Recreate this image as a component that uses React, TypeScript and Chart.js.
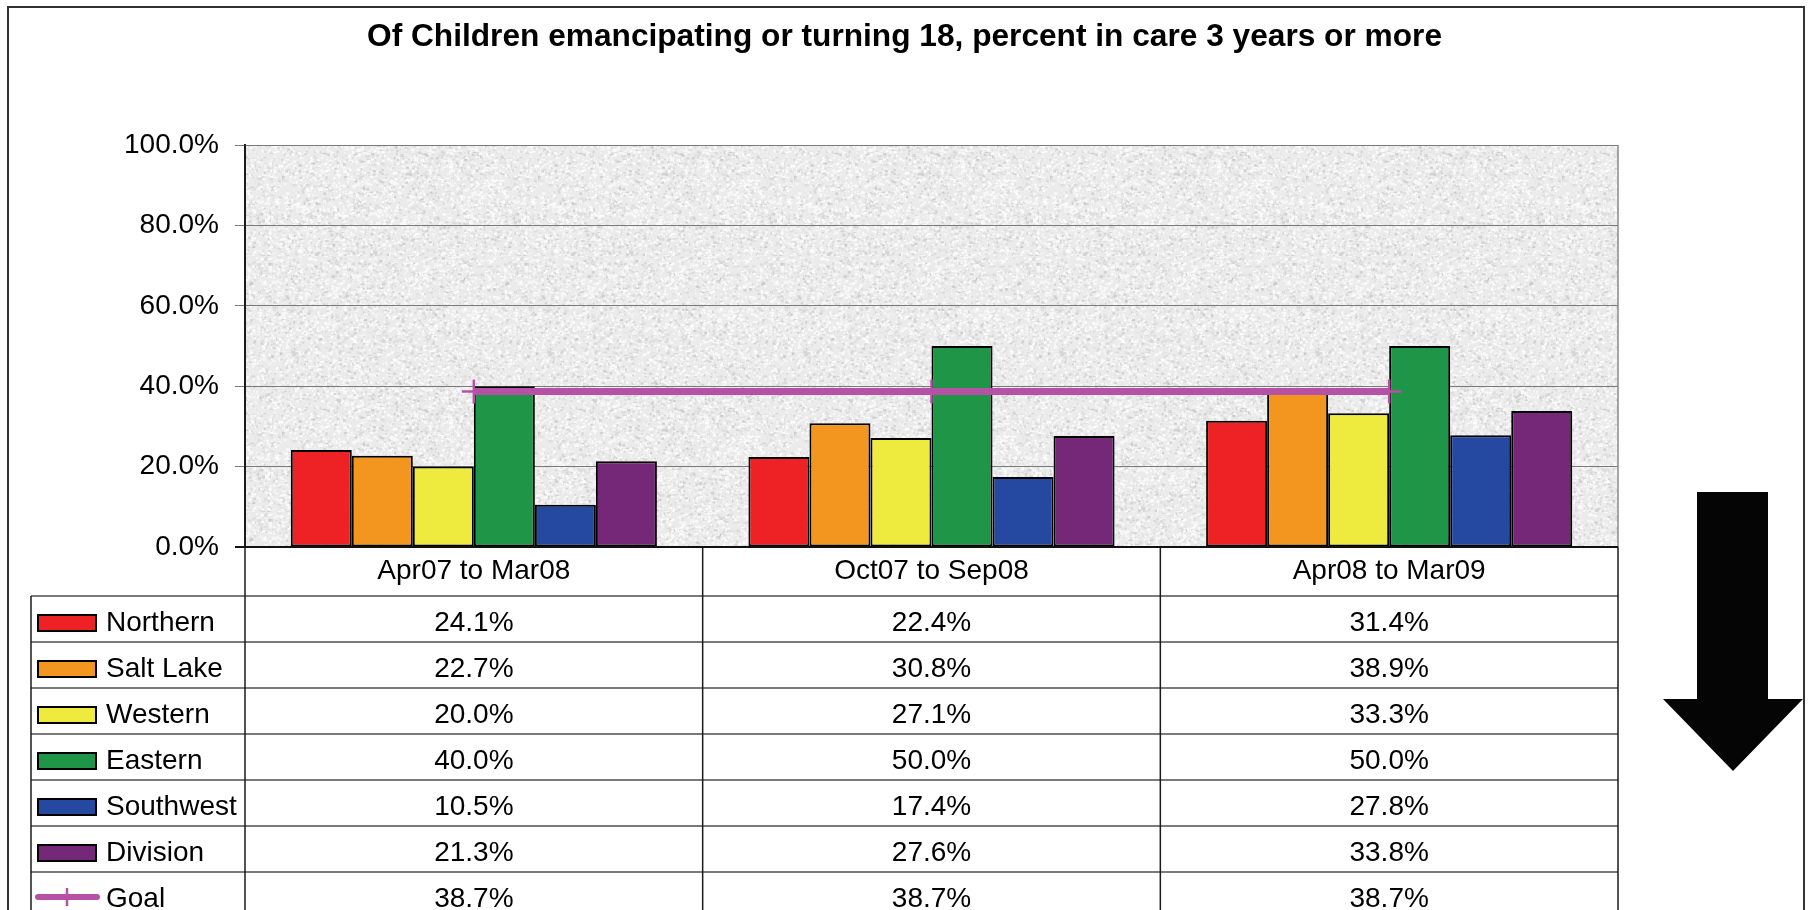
import React, { useEffect, useRef } from 'react';
import { Chart, registerables } from 'chart.js';

Chart.register(...registerables);

// ---------- data ----------
const categories = ['Apr07 to Mar08', 'Oct07 to Sep08', 'Apr08 to Mar09'];
const northern = [24.1, 22.4, 31.4];
const saltLake = [22.7, 30.8, 38.9];
const western = [20.0, 27.1, 33.3];
const eastern = [40.0, 50.0, 50.0];
const southwest = [10.5, 17.4, 27.8];
const division = [21.3, 27.6, 33.8];
const goal = [38.7, 38.7, 38.7];

const seriesNames = ['Northern', 'Salt Lake', 'Western', 'Eastern', 'Southwest', 'Division'];
const seriesValues = [northern, saltLake, western, eastern, southwest, division];
const seriesColors = ['#ee2224', '#f3961f', '#eeea3e', '#1f9647', '#2549a0', '#752878'];
const goalName = 'Goal';
const goalColor = '#b552a5';

const yMin = 0;
const yMax = 100;
const yStep = 20;
const titleText = 'Of Children emancipating or turning 18, percent in care 3 years or more';

const FONT = '"Liberation Sans", Arial, Helvetica, sans-serif';

// ---------- texture for plot background ----------
function makeTexture(ctx: CanvasRenderingContext2D) {
  const c = document.createElement('canvas');
  c.width = 256;
  c.height = 256;
  const g = c.getContext('2d')!;
  g.fillStyle = '#ebebeb';
  g.fillRect(0, 0, 256, 256);
  let s = 987654321;
  const rnd = () => {
    s = (Math.imul(s, 1664525) + 1013904223) >>> 0;
    return s / 4294967296;
  };
  for (let i = 0; i < 9000; i++) {
    const x = rnd() * 256;
    const y = rnd() * 256;
    const w = 0.8 + rnd() * 2.6;
    const h = 0.8 + rnd() * 2.0;
    const v = rnd();
    g.fillStyle =
      v < 0.58 ? 'rgba(253,253,253,0.75)' : v < 0.88 ? 'rgba(212,212,212,0.6)' : 'rgba(185,185,185,0.5)';
    g.fillRect(x, y, w, h);
  }
  return ctx.createPattern(c, 'repeat');
}

const decorPlugin = {
  id: 'excelDecor',
  beforeDraw(chart: any) {
    const { ctx, chartArea: a, width, height } = chart;
    ctx.save();
    ctx.fillStyle = '#ffffff';
    ctx.fillRect(0, 0, width, height);
    const pat = makeTexture(ctx);
    if (pat) ctx.fillStyle = pat;
    ctx.fillRect(a.left, a.top, a.right - a.left, a.bottom - a.top);
    ctx.restore();
  },
  afterDraw(chart: any) {
    const { ctx, chartArea: a, height } = chart;
    const xs = chart.scales.x;
    const centers = categories.map((_, i) => xs.getPixelForValue(i));
    const half = (centers[1] - centers[0]) / 2;
    const tableLeft = 31;
    const rowTop0 = a.bottom + 49;
    const rowH = 46;
    const nRows = seriesNames.length + 1;

    ctx.save();
    // plot right border
    ctx.strokeStyle = '#8a8a8a';
    ctx.lineWidth = 1.5;
    ctx.beginPath();
    ctx.moveTo(a.right, a.top);
    ctx.lineTo(a.right, a.bottom);
    ctx.stroke();

    // table horizontal lines
    ctx.strokeStyle = '#7a7a7a';
    ctx.lineWidth = 2;
    for (let k = 0; k <= nRows; k++) {
      const y = rowTop0 + k * rowH;
      ctx.beginPath();
      ctx.moveTo(tableLeft, y);
      ctx.lineTo(a.right, y);
      ctx.stroke();
    }

    // table vertical lines
    ctx.strokeStyle = '#1a1a1a';
    ctx.lineWidth = 1.5;
    const vline = (x: number, y0: number, y1: number) => {
      ctx.beginPath();
      ctx.moveTo(x, y0);
      ctx.lineTo(x, y1);
      ctx.stroke();
    };
    vline(a.left, a.top, height);
    for (let i = 0; i < centers.length - 1; i++) vline(centers[i] + half, a.bottom, height);
    vline(a.right, a.bottom, height);
    vline(tableLeft, rowTop0, height);

    // x axis line
    ctx.strokeStyle = '#111';
    ctx.lineWidth = 2;
    ctx.beginPath();
    ctx.moveTo(a.left - 10, a.bottom);
    ctx.lineTo(a.right, a.bottom);
    ctx.stroke();

    // header labels
    ctx.fillStyle = '#000';
    ctx.font = `28px ${FONT}`;
    ctx.textAlign = 'center';
    ctx.textBaseline = 'alphabetic';
    categories.forEach((c, i) => ctx.fillText(c, centers[i], a.bottom + 32));

    // series rows
    seriesNames.forEach((name, r) => {
      const top = rowTop0 + r * rowH;
      ctx.fillStyle = seriesColors[r];
      ctx.fillRect(38, top + 19, 58, 16);
      ctx.strokeStyle = '#000';
      ctx.lineWidth = 2;
      ctx.strokeRect(38, top + 19, 58, 16);
      ctx.fillStyle = '#000';
      ctx.textAlign = 'left';
      ctx.fillText(name, 106, top + 35);
      ctx.textAlign = 'center';
      seriesValues[r].forEach((v, i) => ctx.fillText(v.toFixed(1) + '%', centers[i], top + 35));
    });

    // goal row
    const gTop = rowTop0 + seriesNames.length * rowH;
    ctx.strokeStyle = goalColor;
    ctx.lineWidth = 6;
    ctx.lineCap = 'round';
    ctx.beginPath();
    ctx.moveTo(38, gTop + 25);
    ctx.lineTo(97, gTop + 25);
    ctx.stroke();
    ctx.lineWidth = 2.5;
    ctx.lineCap = 'butt';
    ctx.beginPath();
    ctx.moveTo(67, gTop + 16);
    ctx.lineTo(67, gTop + 34);
    ctx.stroke();
    ctx.fillStyle = '#000';
    ctx.textAlign = 'left';
    ctx.fillText(goalName, 106, gTop + 35);
    ctx.textAlign = 'center';
    goal.forEach((v, i) => ctx.fillText(v.toFixed(1) + '%', centers[i], gTop + 35));

    // outer border
    ctx.strokeStyle = '#333';
    ctx.lineWidth = 2;
    ctx.strokeRect(8, 7, 1796, height + 20);

    // title
    ctx.save();
    ctx.font = `bold 31px ${FONT}`;
    const w = ctx.measureText(titleText).width;
    ctx.translate(904.5, 46);
    ctx.scale(1075 / w, 1);
    ctx.textAlign = 'center';
    ctx.fillStyle = '#000';
    ctx.fillText(titleText, 0, 0);
    ctx.restore();

    // down arrow
    ctx.fillStyle = '#050505';
    ctx.beginPath();
    ctx.moveTo(1697, 492);
    ctx.lineTo(1768, 492);
    ctx.lineTo(1768, 699);
    ctx.lineTo(1803, 699);
    ctx.lineTo(1733, 771);
    ctx.lineTo(1663, 699);
    ctx.lineTo(1697, 699);
    ctx.closePath();
    ctx.fill();

    ctx.restore();
  },
};

export default function App() {
  const ref = useRef<HTMLCanvasElement>(null);

  useEffect(() => {
    if (!ref.current) return;
    Chart.defaults.font.family = FONT;
    const datasets: any[] = seriesNames.map((name, i) => ({
      type: 'bar',
      label: name,
      data: seriesValues[i],
      backgroundColor: seriesColors[i],
      borderColor: '#000',
      borderWidth: 2,
      borderSkipped: false,
      categoryPercentage: 0.8,
      barPercentage: 1.0,
    }));
    datasets.push({
      type: 'line',
      label: goalName,
      data: goal,
      borderColor: goalColor,
      backgroundColor: goalColor,
      borderWidth: 7,
      fill: false,
      tension: 0,
      pointStyle: 'cross',
      pointRadius: 12,
      pointBorderWidth: 2.5,
      pointBorderColor: goalColor,
      order: -1,
    });

    const chart = new Chart(ref.current, {
      type: 'bar',
      data: { labels: categories, datasets },
      plugins: [decorPlugin],
      options: {
        animation: false,
        responsive: false,
        devicePixelRatio: 1,
        layout: { padding: { left: 0, top: 145, right: 190, bottom: 413 } },
        plugins: { legend: { display: false }, tooltip: { enabled: false }, title: { display: false } },
        scales: {
          x: { display: false, offset: true },
          y: {
            min: yMin,
            max: yMax,
            afterFit: (s: any) => {
              s.width = 245;
            },
            ticks: {
              stepSize: yStep,
              padding: 16,
              color: '#000',
              font: { size: 28, family: FONT },
              callback: (v: any) => Number(v).toFixed(1) + '%',
            },
            grid: { color: '#7a7a7a', lineWidth: 1, tickLength: 10, drawTicks: true },
            border: { display: true, color: '#222', width: 2 },
          },
        },
      } as any,
    });
    return () => chart.destroy();
  }, []);

  return (
    <div
      style={{
        position: 'fixed',
        left: 0,
        top: 0,
        width: 1808,
        height: 910,
        overflow: 'hidden',
        background: '#fff',
      }}
    >
      <canvas ref={ref} width={1808} height={960} style={{ display: 'block' }} />
    </div>
  );
}
